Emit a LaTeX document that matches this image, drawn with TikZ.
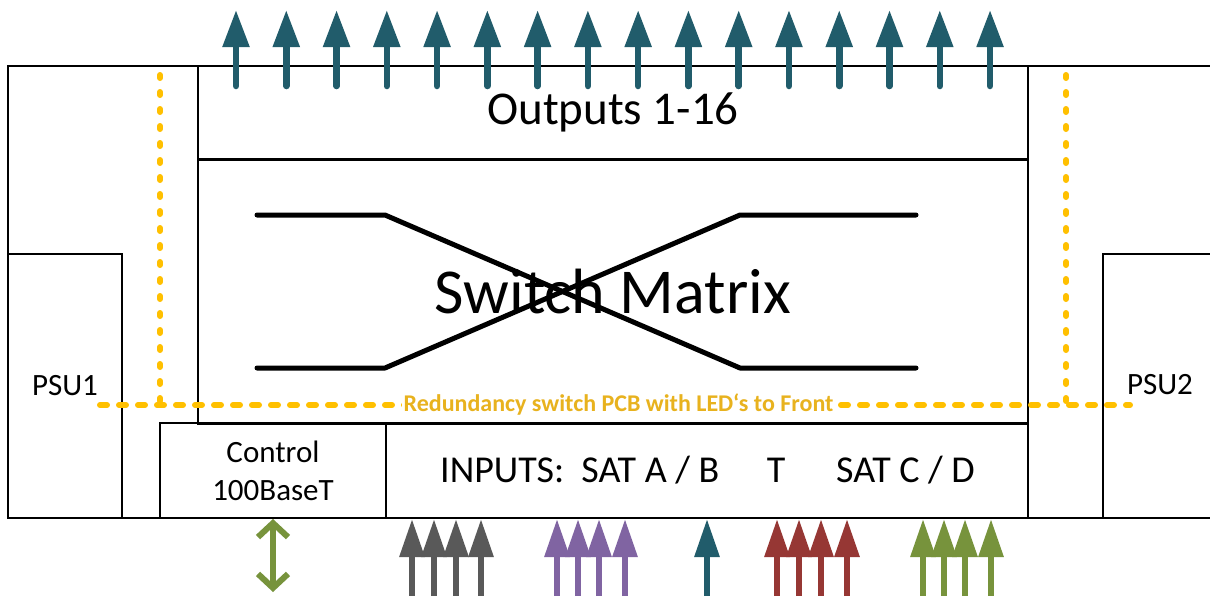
\documentclass[tikz,border=0pt]{standalone}
\usepackage{fontspec}
\setmainfont{Carlito}
\usetikzlibrary{arrows.meta}
\definecolor{cTeal}{RGB}{33,92,107}
\definecolor{cGray}{RGB}{89,89,89}
\definecolor{cPurple}{RGB}{128,100,162}
\definecolor{cRed}{RGB}{150,55,52}
\definecolor{cGreen}{RGB}{119,147,60}
\definecolor{cYellow}{RGB}{255,192,0}
\definecolor{cGold}{RGB}{232,178,30}
\tikzset{
  box/.style={draw=black, line width=1.6pt, rectangle, inner sep=0pt, outer sep=0pt},
  toparrow/.style={draw=cTeal, line width=6.5pt, line cap=round, -{Triangle[width=25.6pt,length=37pt]}},
  botarrow/.style={line width=6pt, -{Triangle[width=24pt,length=38pt]}},
  crossline/.style={line width=5pt, line cap=round, line join=round},
  yelh/.style={draw=cYellow, line width=6pt, line cap=round, dash pattern=on 7pt off 12pt},
  yelv/.style={draw=cYellow, line width=6pt, line cap=round, dash pattern=on 3pt off 14pt},
  midtxt/.style={font=\fontsize{31}{38}\selectfont, align=center},
  intxt/.style={font=\fontsize{38}{42}\selectfont, inner sep=0pt},
}
\begin{document}
\begin{tikzpicture}[x=1pt,y=-1pt]
\useasboundingbox (0,0) rectangle (1210,595);
\clip (0,0) rectangle (1210,595);
\fill[white] (0,0) rectangle (1210,595);
% boxes
\node[box, minimum width=1222pt, minimum height=452pt] (outer) at (619,292) {};
\node[box, minimum width=114pt, minimum height=264pt, midtxt] (psu1) at (65,386) {PSU1};
\node[box, minimum width=137pt, minimum height=264pt] (psu2) at (1171.5,386) {};
\node[midtxt] (psu2t) at (1160,385) {PSU2};
\node[box, minimum width=830pt, minimum height=93pt, font=\fontsize{47}{56}\selectfont] (outputs) at (613,112.5) {Outputs 1-16};
\node[box, minimum width=830pt, minimum height=264pt, font=\fontsize{64}{70}\selectfont] (matrix) at (613,292) {Switch Matrix};
\node[box, minimum width=226pt, minimum height=95pt, midtxt] (control) at (273,470.5) {Control\\100BaseT};
\node[box, minimum width=642pt, minimum height=95pt] (inputs) at (707,470.5) {};
\node[intxt, anchor=west] (inab) at (440,470) {INPUTS:\ \ SAT A / B};
\node[intxt] (int) at (776,470) {T};
\node[intxt] (incd) at (905.5,470) {SAT C / D};
% switch cross
\draw[crossline] (257,215) -- (385,215) -- (740,368) -- (916,368);
\draw[crossline] (257,368) -- (385,368) -- (740,215) -- (916,215);
% redundancy dashed lines
\coordinate (yl1) at (160,75);
\coordinate (yl2) at (160,405);
\coordinate (yr1) at (1066,75);
\coordinate (yr2) at (1066,405);
\coordinate (yh1) at (100,405);
\coordinate (yh2) at (1130,405);
\draw[yelv] (yl1) -- (yl2);
\draw[yelv] (yr1) -- (yr2);
\draw[yelh] (yh1) -- (yh2);
\node[fill=white, text=cGold, inner sep=1.5pt, font=\bfseries\fontsize{24}{28}\selectfont] (red) at (618.5,405) {Redundancy switch PCB with LED‘s to Front};
% top arrows
\foreach \i in {0,...,15} {
  \coordinate (ta\i) at ({236+\i*50.27},86);
  \coordinate (tb\i) at ({236+\i*50.27},10);
  \draw[toparrow] (ta\i) -- (tb\i);
}
% bottom arrows
\foreach \x/\c in {412/cGray,434/cGray,456/cGray,481/cGray,
                   557/cPurple,578/cPurple,599/cPurple,625/cPurple,
                   707/cTeal,
                   777/cRed,799/cRed,821/cRed,847/cRed,
                   923/cGreen,944/cGreen,965/cGreen,991/cGreen} {
  \coordinate (ba) at (\x,605);
  \coordinate (bb) at (\x,519);
  \draw[botarrow, draw=\c, fill=\c] (ba) -- (bb);
}
% control double arrow
\coordinate (ca) at (273,519);
\coordinate (cb) at (273,592);
\draw[draw=cGreen, line width=6pt, {Straight Barb[width=30pt,length=14pt]}-{Straight Barb[width=30pt,length=14pt]}] (ca) -- (cb);
\end{tikzpicture}
\end{document}
